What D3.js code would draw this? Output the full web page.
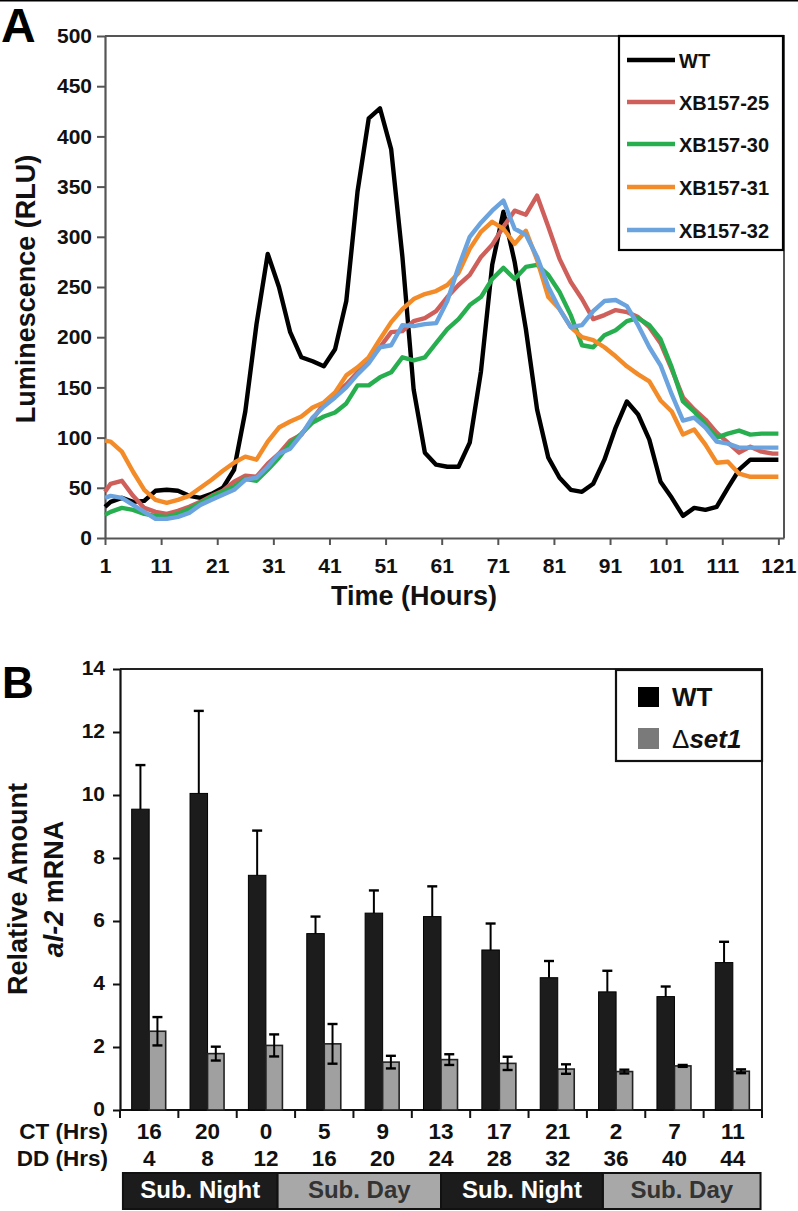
<!DOCTYPE html>
<html><head><meta charset="utf-8">
<script src="https://cdn.jsdelivr.net/npm/d3@7"></script>
<style>
body{margin:0;background:#fff}
svg{display:block}
text{font-family:"Liberation Sans",Arial,Helvetica,sans-serif;font-weight:bold;fill:#111}
</style>
</head><body>
<svg id="c" width="798" height="1211"></svg>
<script>
// ---------- Panel A data ----------
const hours=[1,2,4,6,8,10,12,14,16,18,20,22,24,26,28,30,32,34,36,38,40,42,44,46,48,50,52,54,56,58,60,62,64,66,68,70,72,74,76,78,80,82,84,86,88,90,92,94,96,98,100,102,104,106,108,110,112,114,116,118,120,121];
const wtLum=[31,36,40,36,37,47,48,47,42,40,44,50,68,126,213,283,250,205,180,176,171,188,236,345,418,428,387,280,148,85,73,71,71,95,166,272,325,275,208,128,80,60,48,46,54,78,110,136,123,98,56,40,22,30,28,31,50,68,78,78,78,78];
const xb25=[46,54,57,42,30,26,24,27,31,36,42,47,56,62,61,74,84,97,103,118,134,143,153,165,177,190,205,206,216,219,226,240,252,262,280,292,310,326,322,341,310,278,255,238,218,222,227,225,220,210,194,168,140,128,118,105,95,85,91,86,84,84];
const xb30=[23,26,30,28,24,22,21,24,29,35,41,46,51,59,57,68,80,94,104,115,121,125,134,152,152,160,165,180,177,180,194,208,218,232,240,258,269,258,270,272,262,245,222,192,190,202,207,216,219,212,198,170,136,126,113,100,104,107,103,104,104,104];
const xb31=[97,96,86,66,48,38,35,38,42,50,58,67,75,81,78,96,110,116,121,130,135,145,162,170,180,198,215,228,238,243,246,252,264,288,305,315,308,293,306,277,240,228,210,200,197,190,181,171,163,156,137,126,103,108,93,75,76,64,61,61,61,61];
const xb32=[40,42,40,33,26,19,19,21,25,33,38,43,48,58,60,71,84,89,103,120,131,140,150,163,174,190,192,212,211,213,214,236,270,300,314,326,336,308,302,280,250,228,210,212,226,236,237,231,212,190,172,143,117,120,110,96,94,90,90,90,90,90];
const seriesNames=["WT","XB157-25","XB157-30","XB157-31","XB157-32"];
const seriesColors=["#000000","#cf5f5a","#27ae4f","#f28b28","#6aa3dd"];
const seriesValues=[wtLum,xb25,xb30,xb31,xb32];
const yTicksA=[0,50,100,150,200,250,300,350,400,450,500];
const xTicksA=[1,11,21,31,41,51,61,71,81,91,101,111,121];

// ---------- Panel B data ----------
const ctHrs=["16","20","0","5","9","13","17","21","2","7","11"];
const ddHrs=["4","8","12","16","20","24","28","32","36","40","44"];
const ddNum=[4,8,12,16,20,24,28,32,36,40,44];
const wtMean=[9.55,10.05,7.45,5.6,6.25,6.14,5.08,4.2,3.75,3.6,4.68];
const wtErr=[1.4,2.62,1.42,0.54,0.72,0.96,0.84,0.53,0.67,0.32,0.66];
const setMean=[2.5,1.79,2.05,2.1,1.52,1.6,1.48,1.3,1.22,1.4,1.23];
const setErr=[0.45,0.22,0.35,0.63,0.2,0.17,0.21,0.15,0.06,0.03,0.06];
const yTicksB=[0,2,4,6,8,10,12,14];
const phaseEdges=[2.2,12.8,24,35.1,45.9];
const phaseLabels=["Sub. Night","Sub. Day","Sub. Night","Sub. Day"];

const svg=d3.select("#c");
svg.append("rect").attr("width",798).attr("height",1211).attr("fill","#fff");
svg.append("line").attr("x1",0).attr("x2",798).attr("y1",0.8).attr("y2",0.8).attr("stroke","#000").attr("stroke-width",1.6);

// ================= Panel A =================
const xA=d3.scaleLinear().domain([1,122]).range([105,784]);
const yA=d3.scaleLinear().domain([0,500]).range([538,36]);
const gA=svg.append("g");
svg.append("text").attr("x",1).attr("y",42).attr("font-size",48).text("A").style("fill","#000");

gA.append("path").attr("d",`M${xA(1)},${yA(500)}H${xA(122)}V${yA(0)}`).attr("fill","none").attr("stroke","#555").attr("stroke-width",2);

const axYA=gA.append("g").attr("transform",`translate(${xA(1)},0)`)
  .call(d3.axisLeft(yA).tickValues(yTicksA).tickSize(8).tickPadding(5).tickSizeOuter(0));
const axXA=gA.append("g").attr("transform",`translate(0,${yA(0)})`)
  .call(d3.axisBottom(xA).tickValues(xTicksA).tickSize(7).tickPadding(8).tickSizeOuter(0));
[axYA,axXA].forEach(a=>{
  a.select(".domain").attr("stroke","#555").attr("stroke-width",2.2);
  a.selectAll(".tick line").attr("stroke","#555").attr("stroke-width",2);
  a.selectAll(".tick text").attr("font-size",21).attr("font-family","Liberation Sans, Arial, sans-serif").attr("font-weight","bold").attr("fill","#111");
});
axYA.selectAll(".tick text").attr("x",-13);
axXA.selectAll(".tick text").attr("dy","0.95em");

const lineA=d3.line().x((d,i)=>xA(hours[i])).y(d=>yA(d));
seriesValues.forEach((vals,k)=>{
  gA.append("path").datum(vals).attr("d",lineA).attr("fill","none")
    .attr("stroke",seriesColors[k]).attr("stroke-width",4.4).attr("stroke-linejoin","round");
});

svg.append("text").attr("x",414).attr("y",605).attr("text-anchor","middle").attr("font-size",27).text("Time (Hours)");
svg.append("text").attr("transform","translate(35,289) rotate(-90)").attr("text-anchor","middle").attr("font-size",27).text("Luminescence (RLU)");

// legend A
const legA=svg.append("g");
legA.append("rect").attr("x",619).attr("y",36).attr("width",164).attr("height",214).attr("fill","#fff").attr("stroke","#000").attr("stroke-width",2.2);
const legYs=[60,102,144,187,230];
seriesNames.forEach((n,k)=>{
  legA.append("line").attr("x1",627).attr("x2",675).attr("y1",legYs[k]).attr("y2",legYs[k]).attr("stroke",seriesColors[k]).attr("stroke-width",4.5);
  legA.append("text").attr("x",679).attr("y",legYs[k]+7.5).attr("font-size",20).text(n);
});

// ================= Panel B =================
const xB=d3.scaleBand().domain(d3.range(ctHrs.length)).range([120,762]);
const bw=xB.step();
const inner=d3.scaleBand().domain(["wt","set1"]).range([0,bw]).paddingOuter(0.667).paddingInner(0);
const yB=d3.scaleLinear().domain([0,14]).range([1110,669]);
const gB=svg.append("g");
svg.append("text").attr("x",2).attr("y",698).attr("font-size",44).text("B").style("fill","#000");

gB.append("path").attr("d",`M120,${yB(14)}H762V${yB(0)}`).attr("fill","none").attr("stroke","#222").attr("stroke-width",2);
const axYB=gB.append("g").attr("transform","translate(120,0)")
  .call(d3.axisLeft(yB).tickValues(yTicksB).tickSize(7).tickPadding(6).tickSizeOuter(0));
axYB.select(".domain").attr("stroke","#111").attr("stroke-width",2.2);
axYB.selectAll(".tick line").attr("stroke","#111").attr("stroke-width",2);
axYB.selectAll(".tick text").attr("font-size",21).attr("font-family","Liberation Sans, Arial, sans-serif").attr("font-weight","bold").attr("fill","#111").attr("x",-15).attr("dy","0.28em");

gB.append("line").attr("x1",120).attr("x2",762).attr("y1",yB(0)).attr("y2",yB(0)).attr("stroke","#111").attr("stroke-width",2.2);
gB.selectAll(".bt").data(d3.range(ctHrs.length+1)).join("line")
  .attr("x1",d=>120+d*bw).attr("x2",d=>120+d*bw).attr("y1",yB(0)).attr("y2",yB(0)+8)
  .attr("stroke","#111").attr("stroke-width",2);

ctHrs.forEach((c,i)=>{
  const x0=xB(i);
  const xw=x0+inner("wt"), xs=x0+inner("set1"), w=inner.bandwidth();
  gB.append("rect").attr("x",xw).attr("y",yB(wtMean[i])).attr("width",w).attr("height",yB(0)-yB(wtMean[i]))
    .attr("fill","#1c1c1c").attr("stroke","#000").attr("stroke-width",1);
  gB.append("rect").attr("x",xs).attr("y",yB(setMean[i])).attr("width",w-1).attr("height",yB(0)-yB(setMean[i]))
    .attr("fill","#a0a0a0").attr("stroke","#222").attr("stroke-width",1.6);
  const cw=xw+w/2;
  gB.append("line").attr("x1",cw).attr("x2",cw).attr("y1",yB(wtMean[i])).attr("y2",yB(wtMean[i]+wtErr[i])).attr("stroke","#000").attr("stroke-width",2);
  gB.append("line").attr("x1",cw-5).attr("x2",cw+5).attr("y1",yB(wtMean[i]+wtErr[i])).attr("y2",yB(wtMean[i]+wtErr[i])).attr("stroke","#000").attr("stroke-width",2.4);
  const cs=xs+(w-1)/2;
  gB.append("line").attr("x1",cs).attr("x2",cs).attr("y1",yB(setMean[i]-setErr[i])).attr("y2",yB(setMean[i]+setErr[i])).attr("stroke","#000").attr("stroke-width",2);
  [setMean[i]-setErr[i],setMean[i]+setErr[i]].forEach(v=>{
    gB.append("line").attr("x1",cs-5).attr("x2",cs+5).attr("y1",yB(v)).attr("y2",yB(v)).attr("stroke","#000").attr("stroke-width",2.4);
  });
  svg.append("text").attr("x",x0+bw/2).attr("y",1139).attr("text-anchor","middle").attr("font-size",22.5).text(c);
  svg.append("text").attr("x",x0+bw/2).attr("y",1166).attr("text-anchor","middle").attr("font-size",22.5).text(ddHrs[i]);
});
svg.append("text").attr("x",108).attr("y",1139).attr("text-anchor","end").attr("font-size",22.5).text("CT (Hrs)");
svg.append("text").attr("x",108).attr("y",1166).attr("text-anchor","end").attr("font-size",22.5).text("DD (Hrs)");

const xDD=d3.scaleLinear().domain([ddNum[0],ddNum[ddNum.length-1]]).range([xB(0)+bw/2,xB(10)+bw/2]);
phaseLabels.forEach((lab,k)=>{
  const x1=xDD(phaseEdges[k]), x2=xDD(phaseEdges[k+1]);
  const night=lab.indexOf("Night")>=0;
  svg.append("rect").attr("x",x1).attr("y",1173).attr("width",x2-x1).attr("height",36)
    .attr("fill",night?"#1c1c1c":"#a8a8a8").attr("stroke","#111").attr("stroke-width",2);
  svg.append("text").attr("x",(x1+x2)/2).attr("y",1198).attr("text-anchor","middle").attr("font-size",24)
    .style("fill",night?"#ffffff":"#333333").text(lab);
});

const legB=svg.append("g");
legB.append("rect").attr("x",616).attr("y",670).attr("width",146).attr("height",91).attr("fill","#fff").attr("stroke","#111").attr("stroke-width",2.2);
legB.append("rect").attr("x",638).attr("y",687).attr("width",21).attr("height",20).attr("fill","#000");
legB.append("rect").attr("x",638).attr("y",728).attr("width",21).attr("height",21).attr("fill","#7a7a7a");
legB.append("text").attr("x",672).attr("y",706).attr("font-size",26).text("WT");
const t2=legB.append("text").attr("x",672).attr("y",748).attr("font-size",26);
t2.append("tspan").attr("font-weight","normal").text("\u0394");
t2.append("tspan").attr("font-style","italic").text("set1");

const yl=svg.append("g").attr("transform","translate(0,889)");
yl.append("text").attr("transform","translate(27,0) rotate(-90)").attr("text-anchor","middle").attr("font-size",27).text("Relative Amount");
const l2=yl.append("text").attr("transform","translate(63,0) rotate(-90)").attr("text-anchor","middle").attr("font-size",27);
l2.append("tspan").attr("font-style","italic").text("al-2");
l2.append("tspan").text(" mRNA");
</script>
</body></html>
